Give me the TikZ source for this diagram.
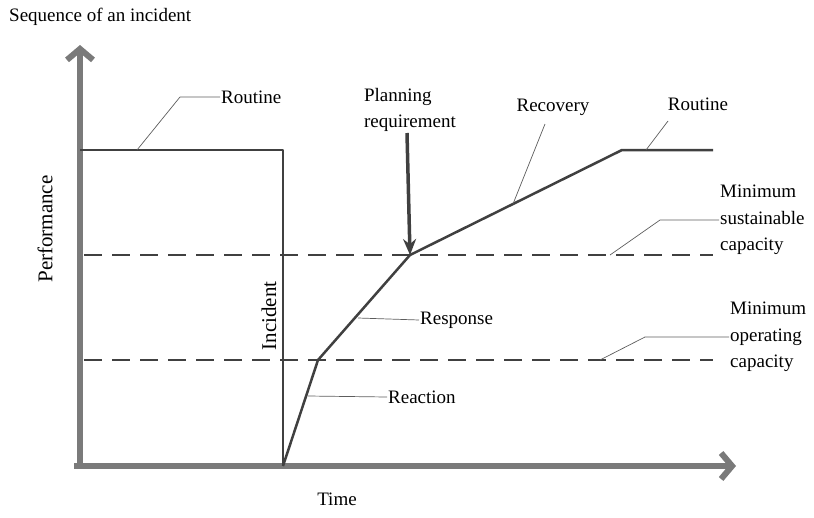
\documentclass[tikz,border=0pt]{standalone}
\usepackage{fontspec}
\setmainfont{LiberationSerif-Regular.ttf}
\usepackage{tikz}
\usetikzlibrary{arrows.meta,positioning}
\definecolor{linegray}{HTML}{404040}
\definecolor{axisgray}{HTML}{7A7A7A}
\tikzset{
  axis/.style    = {line width=6pt, draw=axisgray,
                    -{Straight Barb[length=11pt,width=26pt]}},
  level/.style   = {line width=2.5pt, draw=linegray, line join=round},
  capline/.style = {line width=2.5pt, draw=linegray, dash pattern=on 18pt off 10pt},
  leader/.style  = {line width=0.7pt, draw=linegray!85},
  pointer/.style = {line width=3.5pt, draw=linegray,
                    -{Stealth[length=16pt,width=13pt]}},
  txt/.style     = {font=\fontsize{19}{26.5}\selectfont, inner sep=1pt},
  bigtxt/.style  = {font=\fontsize{21}{24}\selectfont, inner sep=1pt}
}

\begin{document}
\begin{tikzpicture}[x=1pt,y=-1pt]
  \useasboundingbox (0,0) rectangle (814,517);
  % points of the curve
  \coordinate (orig)  at (80,466);
  \coordinate (ltop)  at (80,150);
  \coordinate (rtop)  at (283,150);
  \coordinate (inc)   at (283,466);
  \coordinate (kreac) at (318,360);
  \coordinate (kresp) at (410,255);
  \coordinate (kreco) at (622,150);
  \coordinate (kend)  at (713,150);
  \coordinate (xstart) at (74,466);
  \coordinate (xend)  at (736,466);
  \coordinate (ystart) at (80,469);
  \coordinate (yend)  at (80,45);
  % axes
  \draw[axis] (ystart) -- (yend);
  \draw[axis] (xstart) -- (xend);
  % capacity levels
  \coordinate (sus0) at (84,255);  \coordinate (sus1) at (713,255);
  \coordinate (ope0) at (84,360);  \coordinate (ope1) at (713,360);
  \draw[capline] (sus0) -- (sus1);
  \draw[capline] (ope0) -- (ope1);
  % routine and incident
  \draw[level] (ltop) -- (rtop) -- (inc);
  \draw[level] (inc) -- (kreac) -- (kresp) -- (kreco) -- (kend);

  % texts
  \node[txt, anchor=west] (seq) at (8,17) {Sequence of an incident};
  \node[bigtxt, rotate=90] (perf) at (45,229) {Performance};
  \node[txt] (time) at (337,499) {Time};
  \node[bigtxt, rotate=90] (incid) at (269,316) {Incident};
  \node[txt, anchor=west] (rout1) at (220,97) {Routine};
  \node[txt] (rout2) at (698,104) {Routine};
  \node[txt] (recov) at (553,107) {Recovery};
  \node[txt, align=left] (plan) at (410,110) {Planning\\requirement};
  \node[txt, anchor=west] (resp) at (419,320) {Response};
  \node[txt, anchor=west] (reac) at (387,397) {Reaction};
  \node[txt, align=left, anchor=west] (minsus) at (719,220) {Minimum\\sustainable\\capacity};
  \node[txt, align=left, anchor=west] (minope) at (729,337) {Minimum\\operating\\capacity};

  % leaders
  \coordinate (lr1) at (137,150);
  \coordinate (lr2) at (646,150);
  \coordinate (lrc) at (513,204);
  \coordinate (lrs) at (358,318);
  \coordinate (lra) at (308,396);
  \coordinate (lms) at (610,255);
  \coordinate (lmo) at (600,360);
  \draw[leader] (lr1) -- ++(43,-53) -- (rout1.west);
  \draw[leader] (lr2) -- ++(22,-29);
  \draw[leader] (lrc) -- ++(32,-80);
  \draw[leader] (lrs) -- (resp.west);
  \draw[leader] (lra) -- (reac.west);
  \draw[leader] (lms) -- ++(50,-35) -- (minsus.west);
  \draw[leader] (lmo) -- ++(45,-23) -- (minope.west);

  % planning arrow
  \coordinate (ptop) at (407,133);
  \draw[pointer] (ptop) -- (kresp);
\end{tikzpicture}
\end{document}
